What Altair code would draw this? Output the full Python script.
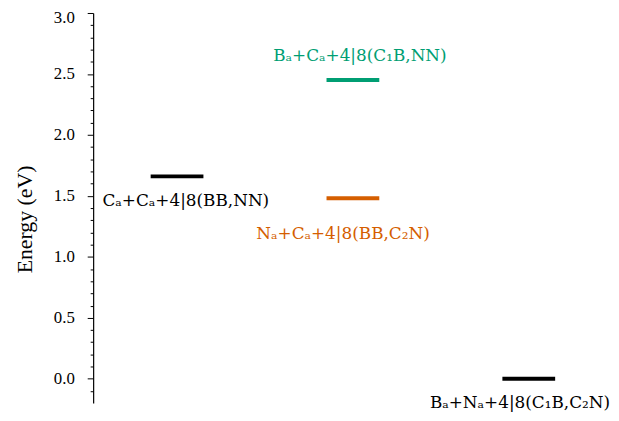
import altair as alt
import pandas as pd

# Data
labels = [
    "Cₐ+Cₐ+4|8(BB,NN)",
    "Bₐ+Cₐ+4|8(C₁B,NN)",
    "Nₐ+Cₐ+4|8(BB,C₂N)",
    "Bₐ+Nₐ+4|8(C₁B,C₂N)",
]
positions = [1, 2, 2, 3]
energies = [1.66, 2.45, 1.48, 0.0]
label_x = [1.05, 2.04, 1.944, 2.95]
label_y = [1.42, 2.61, 1.15, -0.24]
colors = ["#000000", "#009E73", "#D55E00", "#000000"]

tick_values = [round(-0.1 + 0.1 * i, 1) for i in range(32)]

df = pd.DataFrame({
    "label": labels,
    "pos": positions,
    "energy": energies,
    "lx": label_x,
    "ly": label_y,
})

FONT = "Liberation Serif"
TFONT = "DejaVu Serif"
major_test = "abs(datum.value*2 - round(datum.value*2)) < 1e-6"

yscale = alt.Scale(domain=[-0.2, 3.0], nice=False, zero=False)
xscale = alt.Scale(domain=[0.523, 3.4], nice=False, zero=False)
cscale = alt.Scale(domain=labels, range=colors)

base = alt.Chart(df)

levels = base.transform_calculate(
    x1="datum.pos - 0.15", x2="datum.pos + 0.15"
).mark_rule(strokeWidth=4).encode(
    x=alt.X("x1:Q", scale=xscale, axis=None),
    x2="x2:Q",
    y=alt.Y(
        "energy:Q",
        scale=yscale,
        axis=alt.Axis(
            values=tick_values,
            tickCount=200,
            title="Energy (eV)",
            grid=False,
            labelOverlap=False,
            labelBound=False,
            labelFlush=False,
            tickSize={"condition": {"test": major_test, "value": 6}, "value": 3},
            tickColor="black",
            tickWidth=1,
            domainColor="black",
            domainWidth=1.2,
            labelExpr=f"{major_test} ? format(datum.value, '.1f') : ''",
            labelOffset={"condition": {"test": "datum.value > 2.95", "value": 5}, "value": 0},
            labelFont=FONT,
            labelFontSize=17,
            labelColor="black",
            labelPadding=13,
            titleFont=FONT,
            titleFontSize=22,
            titleFontWeight="normal",
            titleColor="black",
            titleX=-69,
            titleY=208,
            titleAngle=270,
            titleAlign="center",
            titleBaseline="middle",
        ),
    ),
    color=alt.Color("label:N", scale=cscale, legend=None),
)

texts = base.mark_text(
    font=TFONT, fontSize=17, align="center", baseline="alphabetic"
).encode(
    x=alt.X("lx:Q", scale=xscale, axis=None),
    y=alt.Y("ly:Q", scale=yscale),
    text="label:N",
    color=alt.Color("label:N", scale=cscale, legend=None),
)

chart = alt.layer(levels, texts).properties(
    width=511,
    height=394,
    autosize=alt.AutoSizeParams(type="none"),
    padding={"left": 86, "top": 3, "right": 12, "bottom": 14},
).configure_view(stroke=None)

chart.save("out.html", embed_options={"renderer": "svg", "actions": False})
